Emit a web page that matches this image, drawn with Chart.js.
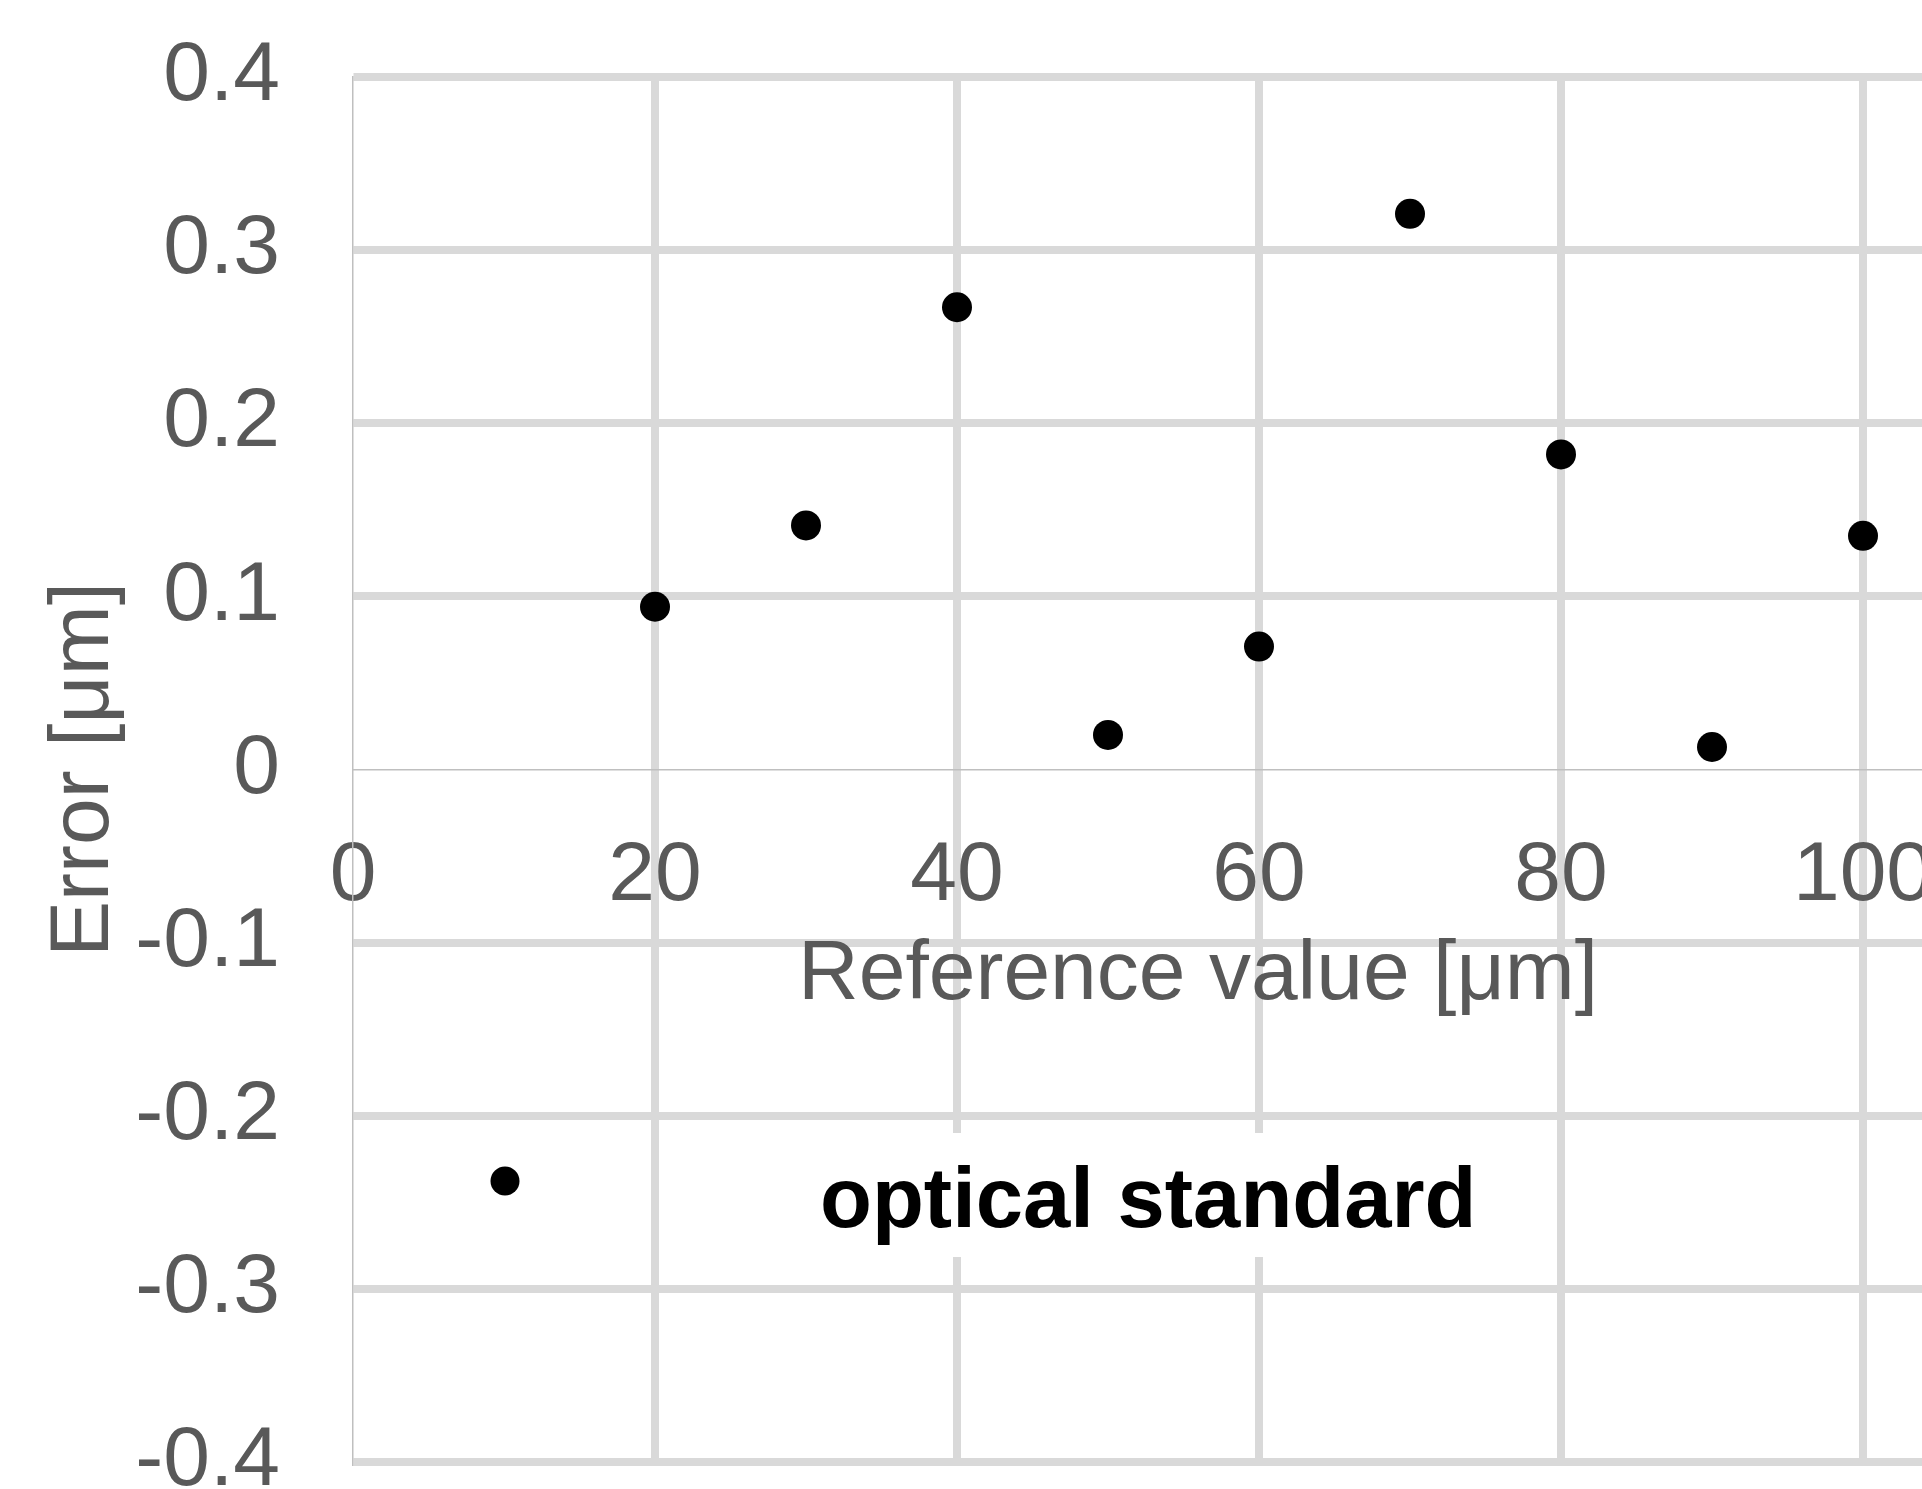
<!DOCTYPE html>
<html>
<head>
<meta charset="utf-8">
<script src="https://cdn.jsdelivr.net/npm/chart.js@4.4.1/dist/chart.umd.min.js"></script>
<style>
  html, body { margin: 0; padding: 0; background: #fff; overflow: hidden; width: 1922px; height: 1489px; }
  #wrap { position: absolute; left: 0; top: 0; width: 2240px; height: 1560px; }
</style>
</head>
<body>
<div id="wrap"><canvas id="c" width="2240" height="1560"></canvas></div>
<script>
// ---- data ----
const referenceValues = [20, 30, 40, 50, 60, 70, 80, 90, 100];
const errorValues = [0.094, 0.141, 0.267, 0.020, 0.071, 0.321, 0.182, 0.013, 0.135];
const seriesName = 'optical standard';
const xTitle = 'Reference value [\u03bcm]';
const yTitle = 'Error [\u03bcm]';
const xRange = [0, 120];
const xStep = 20;
const yRange = [-0.4, 0.4];
const yStep = 0.1;

const FONT = '"Liberation Sans", Arial, Helvetica, sans-serif';
const TEXT = '#595959';
const GRID = '#d9d9d9';
const AXIS = '#bfbfbf';

const points = referenceValues.map((x, i) => ({ x: x, y: errorValues[i] }));

const overlay = {
  id: 'overlay',
  afterDraw(chart) {
    const { ctx, chartArea } = chart;
    const L = chartArea.left, T = chartArea.top;
    ctx.save();
    // x axis title
    ctx.font = '84px ' + FONT;
    ctx.fillStyle = TEXT;
    ctx.textAlign = 'left';
    ctx.textBaseline = 'alphabetic';
    ctx.fillText(xTitle, L + 445, T + 922);
    // legend
    ctx.fillStyle = '#ffffff';
    ctx.fillRect(L + 437, T + 1056, 715, 124);
    ctx.fillStyle = '#000000';
    ctx.beginPath();
    ctx.arc(L + 152, T + 1104, 14.5, 0, Math.PI * 2);
    ctx.fill();
    ctx.font = 'bold 85px ' + FONT;
    ctx.fillText(seriesName, L + 467, T + 1150);
    ctx.restore();
  }
};

new Chart(document.getElementById('c'), {
  type: 'scatter',
  data: {
    datasets: [{
      label: seriesName,
      data: points,
      backgroundColor: '#000000',
      borderColor: '#000000',
      pointRadius: 15,
      pointBorderWidth: 0,
      pointHoverRadius: 15
    }]
  },
  options: {
    responsive: false,
    animation: false,
    devicePixelRatio: 1,
    layout: { padding: { left: 0, top: 77, right: 75, bottom: 98 } },
    plugins: { legend: { display: false }, tooltip: { enabled: false } },
    scales: {
      x: {
        type: 'linear',
        position: { y: 0 },
        min: xRange[0], max: xRange[1],
        afterFit(scale) {
          scale.height = 0;
          scale.paddingLeft = 0; scale.paddingRight = 0;
          scale.paddingTop = 0; scale.paddingBottom = 0;
        },
        ticks: {
          stepSize: xStep,
          padding: 57,
          color: TEXT,
          font: { family: FONT, size: 84 },
          maxRotation: 0,
          autoSkip: false,
          callback: v => String(v)
        },
        grid: {
          drawTicks: false,
          lineWidth: 8,
          color: ctx => (ctx.tick && ctx.tick.value === 0) ? 'rgba(0,0,0,0)' : GRID
        },
        border: { display: true, color: AXIS, width: 1.5 }
      },
      y: {
        type: 'linear',
        position: 'left',
        min: yRange[0], max: yRange[1],
        afterFit(scale) {
          scale.width = 353;
          scale.paddingTop = 0; scale.paddingBottom = 0;
          scale.paddingLeft = 0; scale.paddingRight = 0;
        },
        ticks: {
          stepSize: yStep,
          padding: 73,
          color: TEXT,
          font: { family: FONT, size: 84 },
          callback: v => String(Number(v.toFixed(1)))
        },
        grid: {
          drawTicks: false,
          lineWidth: 8,
          color: ctx => (ctx.tick && Math.abs(ctx.tick.value) < 1e-9) ? 'rgba(0,0,0,0)' : GRID
        },
        border: { display: true, color: AXIS, width: 1.5 },
        title: {
          display: true,
          text: yTitle,
          color: TEXT,
          font: { family: FONT, size: 84 },
          padding: { top: 34, bottom: 0 }
        }
      }
    }
  },
  plugins: [overlay]
});
</script>
</body>
</html>
